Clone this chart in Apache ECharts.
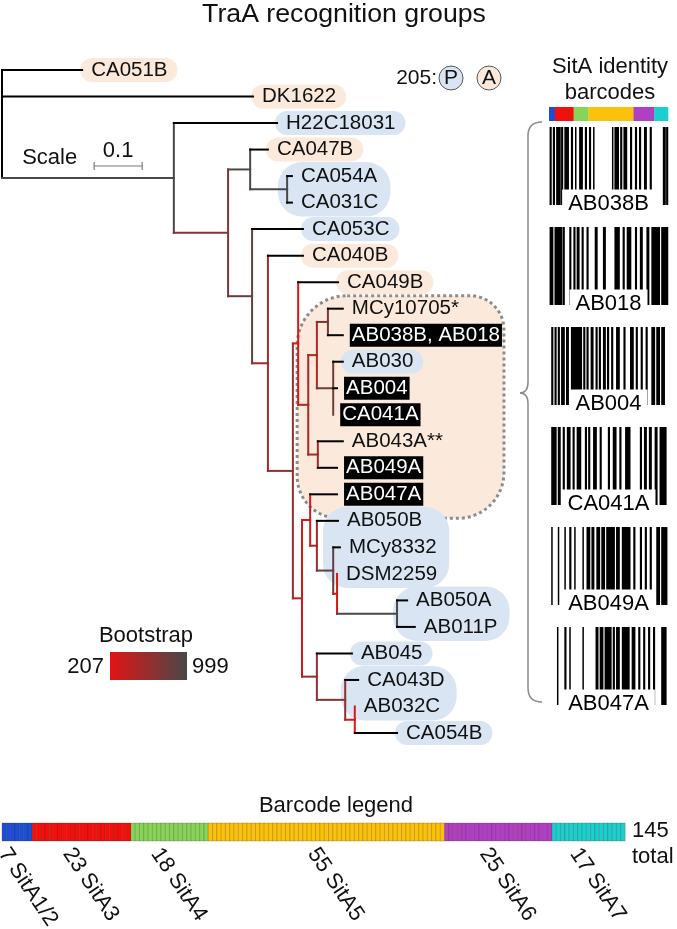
<!DOCTYPE html>
<html><head><meta charset="utf-8">
<script src="https://cdn.jsdelivr.net/npm/echarts@6/dist/echarts.min.js"></script>
<style>html,body{margin:0;padding:0;background:#fff}#c{width:677px;height:929px}</style>
</head><body><div id="c"></div>
<script>
// ---------------- DATA ----------------
const leafNames = ['CA051B','DK1622','H22C18031','CA047B','CA054A','CA031C','CA053C','CA040B','CA049B',
  'MCy10705*','AB038B, AB018','AB030','AB004','CA041A','AB043A**','AB049A','AB047A','AB050B','MCy8332',
  'DSM2259','AB050A','AB011P','AB045','CA043D','AB032C','CA054B'];
const leafDepth = [0.167,0.523,0.573,0.554,0.604,0.604,0.627,0.627,0.700,
  0.710,0.710,0.710,0.698,0.690,0.710,0.698,0.698,0.700,0.704,
  0.698,0.844,0.860,0.729,0.742,0.735,0.823];
const leafParent = ['root','root','A','B1','B2','B2','C','D','F',
  'H1','H1','H2','H2','H2','G2','G2','J','L','M',
  'N','O','O','K','P','Q','Q'];
const nodeIds    = ['root','A','B','B1','B2','C','D','E','F','G','H','H1','H2','G2','I','J','L','M','N','O','K','P','Q'];
const nodeDepth  = [0,0.358,0.471,0.517,0.594,0.521,0.554,0.606,0.617,0.638,0.656,0.679,0.690,0.658,0.625,0.642,0.656,0.690,0.698,0.823,0.656,0.715,0.735];
const nodeParent = [null,'root','A','B','B1','B','C','D','E','F','G','H','H','G','E','I','J','L','M','N','I','K','P'];
const nodeBoot   = [999,990,700,950,999,850,550,600,250,500,450,750,800,550,300,280,550,850,300,999,600,700,250];
// recognition group of each highlighted label: P = blue, A = orange
const blobGroups = [[0,0,'A'],[1,1,'A'],[2,2,'P'],[3,3,'A'],[4,5,'P'],[6,6,'P'],[7,7,'A'],[8,8,'A'],
  [11,11,'P'],[17,19,'P'],[20,21,'P'],[22,22,'P'],[23,24,'P'],[25,25,'P']];
const recognitionRegion = [9,16];
const barcodeNames = ['AB038B','AB018','AB004','CA041A','AB049A','AB047A'];
// runs [start position, length] out of 145 SitA positions
const bcAB038B = [[1,2],[5,2],[9,5],[15,2],[19,5],[27,2],[32,1],[37,4],[44,2],[49,2],[54,1],[77,1],[80,5],[87,2],[91,4],[99,2],[105,2],[110,2],[116,3],[123,2],[139,3],[143,2]];
const bcAB018  = [[1,4],[7,9],[17,2],[25,2],[30,2],[34,3],[40,2],[46,2],[56,3],[66,3],[80,6],[90,2],[95,5],[105,2],[111,3],[119,3],[125,10],[137,8]];
const bcAB004  = [[3,2],[7,2],[11,2],[15,4],[21,3],[27,13],[42,2],[46,2],[51,3],[57,2],[61,2],[66,3],[71,2],[76,2],[82,4],[91,2],[99,4],[106,2],[112,2],[118,2],[125,4],[131,4],[137,4]];
const bcCA041A = [[3,6],[11,3],[17,2],[22,4],[29,2],[34,5],[44,2],[48,2],[54,4],[62,2],[72,2],[78,4],[86,2],[93,6],[111,2],[116,3],[122,3],[129,3],[135,8]];
const bcAB049A = [[3,1],[11,1],[19,1],[25,2],[31,1],[41,1],[46,4],[52,3],[58,4],[64,4],[70,10],[82,4],[89,10],[103,2],[111,2],[117,2],[123,2],[131,4],[137,7]];
const bcAB047A = [[10,1],[19,2],[25,1],[41,1],[57,3],[62,4],[68,8],[78,2],[82,4],[89,9],[101,4],[109,2],[115,2],[121,2],[127,2],[137,6]];
const sitaGroups = ['SitA1/2','SitA3','SitA4','SitA5','SitA6','SitA7'];
const sitaCounts = [7,23,18,55,25,17];
const bootRange = [207,999];
const scaleLength = 0.1;

// ---------------- STYLE ----------------
const FONT = '"Liberation Sans", Arial, sans-serif';
const sitaColors = ['#1a4fd6','#f2100e','#86d45a','#fcc10a','#b13fc4','#1ccfcf'];
const blobColor = {P:'#d9e5f2', A:'#fbeadb'};
const bootLow = [226,20,20], bootHigh = [72,72,72];
function bootColor(b){
  const t = Math.max(0,Math.min(1,(b-bootRange[0])/(bootRange[1]-bootRange[0])));
  const c = bootLow.map((v,i)=>Math.round(v+(bootHigh[i]-v)*t));
  return 'rgb('+c.join(',')+')';
}
const ctx = document.createElement('canvas').getContext('2d');
function textW(t,size){ctx.font=size+'px '+FONT;return ctx.measureText(t).width;}
const LABEL_SIZE = 20.5, LABEL_GAP = 9, TXT = '22px '+FONT;

// ---------------- TREE LAYOUT ----------------
const nodeY = {};
function yOf(id){
  if(nodeY[id]!==undefined) return nodeY[id];
  const ys = [];
  leafParent.forEach((p,i)=>{ if(p===id) ys.push(i); });
  nodeParent.forEach((p,i)=>{ if(p===id) ys.push(yOf(nodeIds[i]).mid); });
  nodeY[id] = {min:Math.min(...ys), max:Math.max(...ys), mid:(Math.min(...ys)+Math.max(...ys))/2};
  return nodeY[id];
}
nodeIds.forEach(yOf);
const depthOf = id => nodeDepth[nodeIds.indexOf(id)];
const segs = [];
nodeIds.forEach((id,i)=>{
  const col = id==='root' ? '#000' : bootColor(nodeBoot[i]);
  const y = nodeY[id];
  segs.push({value:[nodeDepth[i],y.min,nodeDepth[i],y.max], itemStyle:{color:col}});
  if(nodeParent[i]) segs.push({value:[depthOf(nodeParent[i]),y.mid,nodeDepth[i],y.mid], itemStyle:{color:col}});
});
leafNames.forEach((n,i)=>{
  segs.push({value:[depthOf(leafParent[i]),i,leafDepth[i],i], itemStyle:{color:'#000'}});
});
const isBarcoded = n => barcodeNames.some(b=>n.indexOf(b)>=0);

const PX_PER_UNIT = 480;
const chart = echarts.init(document.getElementById('c'),null,{renderer:'canvas'});

function gradient(){
  return {type:'linear',x:0,y:0,x2:1,y2:0,colorStops:[
    {offset:0,color:bootColor(bootRange[0])},
    {offset:0.5,color:bootColor((bootRange[0]+bootRange[1])/2)},
    {offset:1,color:bootColor(bootRange[1])}]};
}

const option = {
  animation:false,
  backgroundColor:'#fff',
  grid:[
    {left:2, top:70, width:675, height:663},
    {left:549, top:127, width:119, height:600},
    {left:2, top:823, width:623, height:18}
  ],
  xAxis:[
    {gridIndex:0,type:'value',min:0,max:675/PX_PER_UNIT,show:false},
    {gridIndex:1,type:'value',min:0,max:145,show:false},
    {gridIndex:2,type:'value',min:0,max:145,show:false}
  ],
  yAxis:[
    {gridIndex:0,type:'value',min:0,max:25,inverse:true,show:false},
    {gridIndex:1,type:'value',min:0,max:6,inverse:true,show:false},
    {gridIndex:2,type:'value',min:0,max:1,inverse:true,show:false}
  ],
  series:[
    // recognition region (dotted)
    {type:'custom',xAxisIndex:0,yAxisIndex:0,silent:true,clip:false,z:1,
     data:[[recognitionRegion[0],recognitionRegion[1]]],
     renderItem:(p,api)=>{
       const a = recognitionRegion[0], b = recognitionRegion[1];
       const leftD = depthOf(leafParent[a-1]);
       const top = api.coord([0,a])[1]-13, bot = api.coord([0,b])[1]+24;
       let right = 0;
       for(let i=a;i<=b;i++){ right=Math.max(right, api.coord([leafDepth[i],i])[0]+LABEL_GAP+textW(leafNames[i],LABEL_SIZE)); }
       right += 4;
       const left = api.coord([leftD,0])[0]-1;
       return {type:'rect',shape:{x:left,y:top,width:right-left,height:bot-top,r:[50,34,46,42]},
         style:{fill:blobColor.A,stroke:'#8c8c8c',lineWidth:3,lineDash:[3,3]}};
     }},
    // blobs
    {type:'custom',xAxisIndex:0,yAxisIndex:0,silent:true,clip:false,z:2,
     data:blobGroups.map(g=>[g[0],g[1]]),
     renderItem:(p,api)=>{
       const g = blobGroups[p.dataIndex];
       let minTip=1e9, maxEnd=0;
       for(let i=g[0];i<=g[1];i++){
         const x = api.coord([leafDepth[i],i])[0];
         minTip=Math.min(minTip,x); maxEnd=Math.max(maxEnd,x+LABEL_GAP+textW(leafNames[i],LABEL_SIZE));
       }
       const y0 = api.coord([0,g[0]])[1], y1 = api.coord([0,g[1]])[1];
       const multi = g[1]>g[0];
       const left = multi ? minTip-14 : minTip-2;
       const right = multi ? maxEnd+12 : maxEnd+10;
       const top = y0-(multi?14:12), bot = y1+(multi?14:12);
       return {type:'rect',shape:{x:left,y:top,width:right-left,height:bot-top,r:multi?24:12},
         style:{fill:blobColor[g[2]]}};
     }},
    // branches
    {type:'custom',xAxisIndex:0,yAxisIndex:0,silent:true,clip:false,z:3,
     encode:{x:[0,2],y:[1,3]},
     data:segs,
     renderItem:(p,api)=>{
       const a = api.coord([api.value(0),api.value(1)]);
       const b = api.coord([api.value(2),api.value(3)]);
       return {type:'line',shape:{x1:a[0],y1:a[1],x2:b[0],y2:b[1]},
         style:{stroke:api.visual('color'),lineWidth:2,lineCap:'square'}};
     }},
    // leaf labels
    {type:'custom',xAxisIndex:0,yAxisIndex:0,silent:true,clip:false,z:4,
     data:leafNames.map((n,i)=>({value:[leafDepth[i],i],name:n})),
     renderItem:(p,api)=>{
       const c = api.coord([api.value(0),api.value(1)]);
       const n = leafNames[p.dataIndex];
       const boxed = isBarcoded(n);
       return {type:'text',x:c[0]+LABEL_GAP-(boxed?2:0),y:c[1],
         style:{text:n,font:LABEL_SIZE+'px '+FONT,fill:boxed?'#fff':'#111',
           align:'left',verticalAlign:'middle',
           backgroundColor:boxed?'#000':null,padding:boxed?[2,2,1,2]:0,lineHeight:20}};
     }},
    // scale bar
    {type:'custom',xAxisIndex:0,yAxisIndex:0,silent:true,clip:false,z:4,
     data:[[0.192,3.62,scaleLength]],
     renderItem:(p,api)=>{
       const a = api.coord([api.value(0),api.value(1)]);
       const b = api.coord([api.value(0)+api.value(2),api.value(1)]);
       const st = {stroke:'#7a7a7a',lineWidth:1.2};
       return {type:'group',children:[
         {type:'line',shape:{x1:a[0],y1:a[1],x2:b[0],y2:b[1]},style:st},
         {type:'line',shape:{x1:a[0],y1:a[1]-4,x2:a[0],y2:a[1]+4},style:st},
         {type:'line',shape:{x1:b[0],y1:b[1]-4,x2:b[0],y2:b[1]+4},style:st},
         {type:'text',x:(a[0]+b[0])/2,y:a[1]-15,style:{text:String(api.value(2)),font:TXT,fill:'#111',align:'center',verticalAlign:'middle'}},
         {type:'text',x:a[0]-72,y:a[1]-8,style:{text:'Scale',font:TXT,fill:'#111',align:'left',verticalAlign:'middle'}}
       ]};
     }},
    // barcode colour strip
    {type:'custom',xAxisIndex:1,yAxisIndex:1,silent:true,clip:false,z:3,
     data:sitaCounts.map((c,i)=>[sitaCounts.slice(0,i).reduce((s,v)=>s+v,0),c,i]),
     renderItem:(p,api)=>{
       const a = api.coord([api.value(0),-0.2]);
       const b = api.coord([api.value(0)+api.value(1),-0.06]);
       return {type:'rect',shape:{x:a[0],y:a[1],width:b[0]-a[0]+0.3,height:b[1]-a[1]},style:{fill:sitaColors[api.value(2)]}};
     }},
    // barcode bars
    {type:'custom',xAxisIndex:1,yAxisIndex:1,silent:true,clip:false,z:3,
     data:[bcAB038B,bcAB018,bcAB004,bcCA041A,bcAB049A,bcAB047A].flatMap((runs,k)=>runs.map(r=>[r[0],r[1],k])),
     renderItem:(p,api)=>{
       const k = api.value(2);
       const a = api.coord([api.value(0),k]);
       const b = api.coord([api.value(0)+api.value(1),k+0.78]);
       const w = Math.max(b[0]-a[0]+0.5,1.5);
       return {type:'rect',shape:{x:a[0]-0.25,y:a[1],width:w,height:b[1]-a[1]},style:{fill:'#000'}};
     }},
    // barcode labels
    {type:'custom',xAxisIndex:1,yAxisIndex:1,silent:true,clip:false,z:5,
     data:barcodeNames.map((n,k)=>({value:[72.5,k],name:n})),
     renderItem:(p,api)=>{
       const c = api.coord([api.value(0),api.value(1)+0.77]);
       return {type:'text',x:c[0],y:c[1],style:{text:barcodeNames[p.dataIndex],font:TXT,fill:'#000',
         align:'center',verticalAlign:'middle',backgroundColor:'#fff',padding:[5,6,2,6],lineHeight:22}};
     }},
    // barcode legend cells
    {type:'custom',xAxisIndex:2,yAxisIndex:2,silent:true,clip:false,z:3,
     data:sitaCounts.flatMap((c,g)=>{const s=sitaCounts.slice(0,g).reduce((a,v)=>a+v,0);return Array.from({length:c},(_,j)=>[s+j,g]);}),
     renderItem:(p,api)=>{
       const a = api.coord([api.value(0),0]);
       const b = api.coord([api.value(0)+1,1]);
       return {type:'rect',shape:{x:a[0],y:a[1],width:b[0]-a[0]+0.2,height:b[1]-a[1]},
         style:{fill:sitaColors[api.value(1)],stroke:'rgba(60,40,20,0.35)',lineWidth:0.6}};
     }},
    // barcode legend group labels
    {type:'custom',xAxisIndex:2,yAxisIndex:2,silent:true,clip:false,z:4,
     data:sitaCounts.map((c,i)=>[sitaCounts.slice(0,i).reduce((s,v)=>s+v,0)+c/2,c]),
     renderItem:(p,api)=>{
       const a = api.coord([api.value(0),1]);
       return {type:'text',x:a[0]-14,y:a[1]+9,rotation:-56*Math.PI/180,
         style:{text:api.value(1)+' '+sitaGroups[p.dataIndex],font:TXT,fill:'#111',align:'left',verticalAlign:'middle'}};
     }}
  ],
  graphic:[
    {type:'text',x:344,y:15,style:{text:'TraA recognition groups',font:'26.7px '+FONT,fill:'#111',align:'center',verticalAlign:'middle'}},
    {type:'text',x:437,y:78,style:{text:'205:',font:'21px '+FONT,fill:'#111',align:'right',verticalAlign:'middle'}},
    {type:'circle',shape:{cx:451,cy:78,r:12},style:{fill:blobColor.P,stroke:'#555',lineWidth:1}},
    {type:'text',x:451,y:78,style:{text:'P',font:'21px '+FONT,fill:'#111',align:'center',verticalAlign:'middle'}},
    {type:'circle',shape:{cx:489,cy:78,r:12},style:{fill:blobColor.A,stroke:'#555',lineWidth:1}},
    {type:'text',x:489,y:78,style:{text:'A',font:'21px '+FONT,fill:'#111',align:'center',verticalAlign:'middle'}},
    {type:'text',x:610,y:67,style:{text:'SitA identity',font:TXT,fill:'#111',align:'center',verticalAlign:'middle'}},
    {type:'text',x:610,y:93,style:{text:'barcodes',font:TXT,fill:'#111',align:'center',verticalAlign:'middle'}},
    // curly bracket
    {type:'bezierCurve',shape:{x1:542,y1:122,cpx1:528,cpy1:122,x2:528,y2:136},style:{fill:null,stroke:'#8a8a8a',lineWidth:1.5}},
    {type:'line',shape:{x1:528,y1:136,x2:528,y2:382},style:{stroke:'#8a8a8a',lineWidth:1.5}},
    {type:'bezierCurve',shape:{x1:528,y1:382,cpx1:528,cpy1:393,x2:520,y2:393},style:{fill:null,stroke:'#8a8a8a',lineWidth:1.5}},
    {type:'bezierCurve',shape:{x1:520,y1:393,cpx1:528,cpy1:393,x2:528,y2:404},style:{fill:null,stroke:'#8a8a8a',lineWidth:1.5}},
    {type:'line',shape:{x1:528,y1:404,x2:528,y2:688},style:{stroke:'#8a8a8a',lineWidth:1.5}},
    {type:'bezierCurve',shape:{x1:528,y1:688,cpx1:528,cpy1:702,x2:542,y2:702},style:{fill:null,stroke:'#8a8a8a',lineWidth:1.5}},
    {type:'text',x:146,y:636,style:{text:'Bootstrap',font:TXT,fill:'#111',align:'center',verticalAlign:'middle'}},
    {type:'rect',shape:{x:110,y:652,width:77,height:28},style:{fill:gradient()}},
    {type:'text',x:104,y:667,style:{text:String(bootRange[0]),font:TXT,fill:'#111',align:'right',verticalAlign:'middle'}},
    {type:'text',x:192,y:667,style:{text:String(bootRange[1]),font:TXT,fill:'#111',align:'left',verticalAlign:'middle'}},
    {type:'text',x:336,y:806,style:{text:'Barcode legend',font:TXT,fill:'#111',align:'center',verticalAlign:'middle'}},
    {type:'text',x:632,y:831,style:{text:String(sitaCounts.reduce((a,b)=>a+b,0)),font:TXT,fill:'#111',align:'left',verticalAlign:'middle'}},
    {type:'text',x:632,y:857,style:{text:'total',font:TXT,fill:'#111',align:'left',verticalAlign:'middle'}}
  ]
};
chart.setOption(option);
</script></body></html>
